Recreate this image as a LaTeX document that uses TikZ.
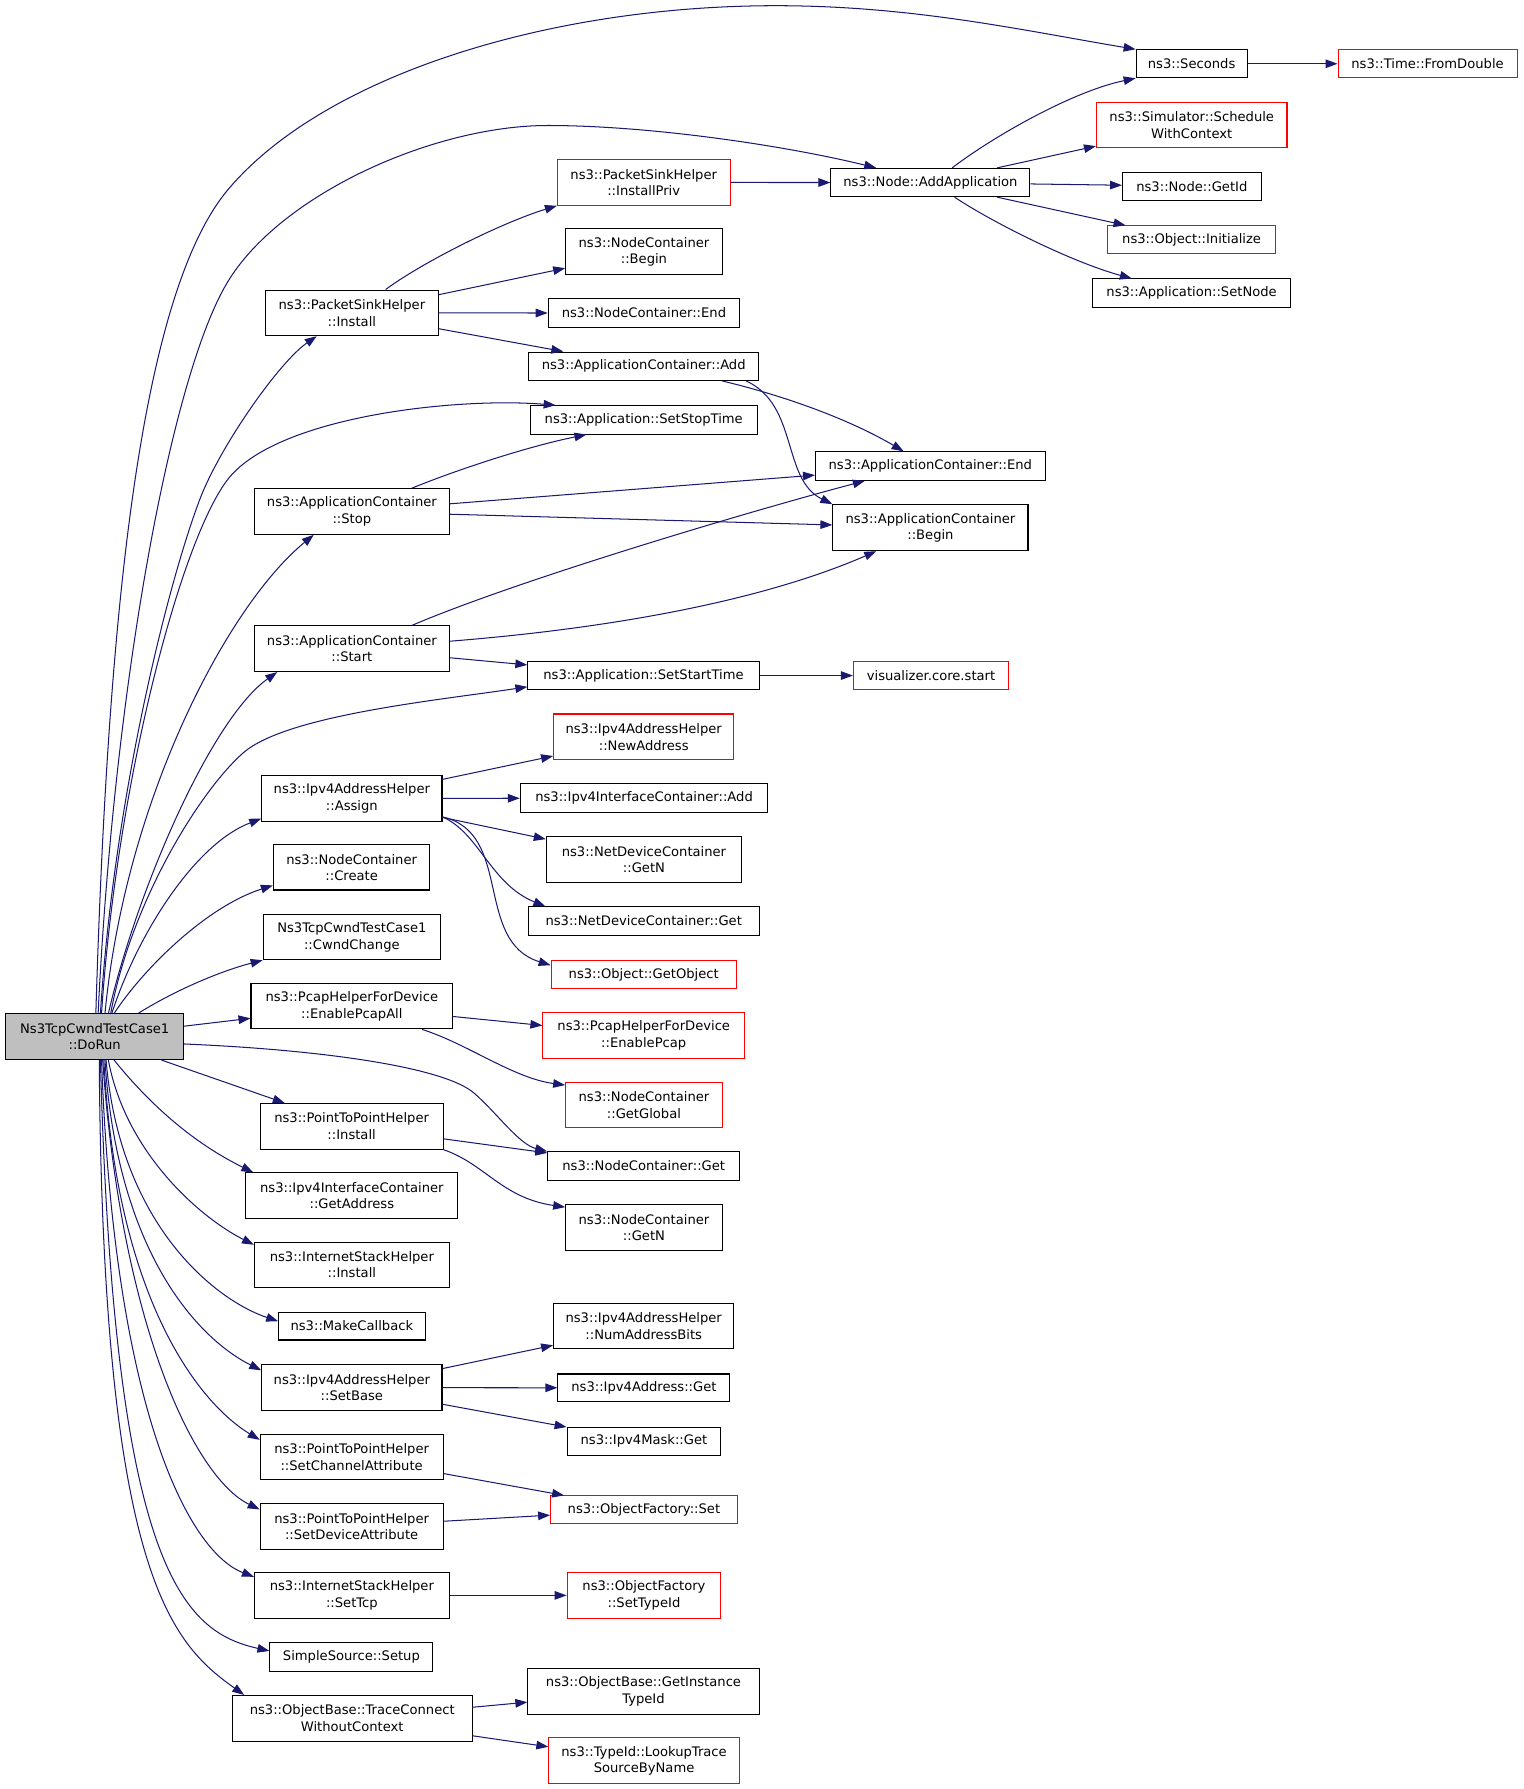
\documentclass[tikz,border=0pt]{standalone}
\usepackage{fontspec}
\setmainfont{DejaVu Sans}
\usetikzlibrary{arrows.meta}
\definecolor{edgecol}{HTML}{191970}
\definecolor{rungray}{HTML}{BFBFBF}
\begin{document}
\begin{tikzpicture}[x=1pt,y=-1pt,
  box/.style={draw=black, line width=0.9pt, fill=white, inner sep=0pt, align=center,
              font=\fontsize{11.5}{14.5}\selectfont},
  redbox/.style={box, draw=red},
  sz/.style 2 args={minimum width=#1, minimum height=#2},
  edg/.style={draw=edgecol, line width=0.9pt, -{Triangle[length=10.5pt,width=7.5pt]}},
]
\useasboundingbox (0,0) rectangle (1335,1568);

% ---------- nodes ----------
\node[box,sz={97.2}{24.5}] (Seconds) at (1044.4,55.9) {ns3::Seconds};
\node[redbox,sz={156.9}{24.5}] (FromDouble) at (1251.2,55.9) {ns3::Time::FromDouble};
\node[redbox,sz={167}{40}] (Schedule) at (1044.5,109.6) {ns3::Simulator::Schedule\\WithContext};
\node[box,sz={174.4}{24.8}] (AddApp) at (815.5,160) {ns3::Node::AddApplication};
\node[box,sz={121.5}{24.5}] (GetId) at (1044.6,163.2) {ns3::Node::GetId};
\node[redbox,sz={147.6}{24.5}] (Initialize) at (1044.4,210.2) {ns3::Object::Initialize};
\node[box,sz={173.2}{24.8}] (SetNode) at (1044.4,256.9) {ns3::Application::SetNode};
\node[redbox,sz={151.3}{40}] (InstallPriv) at (564.2,159.9) {ns3::PacketSinkHelper\\::InstallPriv};
\node[box,sz={137.2}{40}] (NCBegin) at (564.4,220.6) {ns3::NodeContainer\\::Begin};
\node[box,sz={167.8}{24.8}] (NCEnd) at (564.4,274.4) {ns3::NodeContainer::End};
\node[box,sz={151.2}{40}] (PSHInstall) at (308.4,274.2) {ns3::PacketSinkHelper\\::Install};
\node[box,sz={201.4}{24.9}] (ACAdd) at (564.2,321) {ns3::ApplicationContainer::Add};
\node[box,sz={198.8}{24.8}] (SetStopTime) at (564.2,368) {ns3::Application::SetStopTime};
\node[box,sz={201.3}{25}] (ACEnd) at (815.4,408.5) {ns3::ApplicationContainer::End};
\node[box,sz={171}{40.3}] (ACBegin) at (815.5,462.5) {ns3::ApplicationContainer\\::Begin};
\node[box,sz={170.8}{40}] (ACStop) at (308.4,448.3) {ns3::ApplicationContainer\\::Stop};
\node[box,sz={170.8}{40}] (ACStart) at (308.4,568.6) {ns3::ApplicationContainer\\::Start};
\node[box,sz={202.7}{25.2}] (SetStartTime) at (564,592.1) {ns3::Application::SetStartTime};
\node[redbox,sz={136}{25}] (VisStart) at (816,592.1) {visualizer.core.start};
\node[redbox,sz={158}{40.2}] (NewAddress) at (564.2,645.9) {ns3::Ipv4AddressHelper\\::NewAddress};
\node[box,sz={158}{39.8}] (Assign) at (308.4,699.8) {ns3::Ipv4AddressHelper\\::Assign};
\node[box,sz={217}{25}] (IICAdd) at (564.5,699.5) {ns3::Ipv4InterfaceContainer::Add};
\node[box,sz={171.2}{40}] (NDCGetN) at (564.4,753.5) {ns3::NetDeviceContainer\\::GetN};
\node[box,sz={202.3}{24.8}] (NDCGet) at (564.2,807.2) {ns3::NetDeviceContainer::Get};
\node[redbox,sz={162.3}{24.8}] (GetObject) at (564.2,854.2) {ns3::Object::GetObject};
\node[box,sz={137.2}{39.5}] (NCCreate) at (308.2,760.3) {ns3::NodeContainer\\::Create};
\node[box,sz={155.5}{39.5}] (CwndChange) at (308.4,821.4) {Ns3TcpCwndTestCase1\\::CwndChange};
\node[box,sz={176.8}{39.6}] (PcapAll) at (308.4,882) {ns3::PcapHelperForDevice\\::EnablePcapAll};
\node[redbox,sz={176.7}{40}] (Pcap) at (564.2,907.7) {ns3::PcapHelperForDevice\\::EnablePcap};
\node[box,fill=rungray,sz={156}{40}] (DoRun) at (83,908.7) {Ns3TcpCwndTestCase1\\::DoRun};
\node[redbox,sz={137.2}{39.8}] (GetGlobal) at (564.4,968.4) {ns3::NodeContainer\\::GetGlobal};
\node[box,sz={160.2}{40}] (P2PInstall) at (308.2,987.2) {ns3::PointToPointHelper\\::Install};
\node[box,sz={168.3}{24.8}] (NCGet) at (564.2,1022) {ns3::NodeContainer::Get};
\node[box,sz={186}{39.5}] (GetAddress) at (308.4,1047.8) {ns3::Ipv4InterfaceContainer\\::GetAddress};
\node[box,sz={137.2}{39.6}] (NCGetN) at (564.4,1075.8) {ns3::NodeContainer\\::GetN};
\node[box,sz={170.8}{39.8}] (ISHInstall) at (308.4,1108.5) {ns3::InternetStackHelper\\::Install};
\node[box,sz={128.3}{24.5}] (MakeCallback) at (308.4,1162.2) {ns3::MakeCallback};
\node[box,sz={158}{39.5}] (NumBits) at (564.2,1162.4) {ns3::Ipv4AddressHelper\\::NumAddressBits};
\node[box,sz={158}{39.8}] (SetBase) at (308.4,1216.2) {ns3::Ipv4AddressHelper\\::SetBase};
\node[box,sz={150.8}{24.3}] (AddrGet) at (564.4,1216.4) {ns3::Ipv4Address::Get};
\node[box,sz={134.7}{24.9}] (MaskGet) at (564.4,1263.2) {ns3::Ipv4Mask::Get};
\node[box,sz={160.3}{40}] (SetChannel) at (308.2,1277) {ns3::PointToPointHelper\\::SetChannelAttribute};
\node[redbox,sz={163.6}{24.4}] (OFSet) at (564.4,1323.3) {ns3::ObjectFactory::Set};
\node[box,sz={160.3}{40}] (SetDevice) at (308.2,1337.9) {ns3::PointToPointHelper\\::SetDeviceAttribute};
\node[box,sz={170.8}{39.8}] (SetTcp) at (308.4,1398.3) {ns3::InternetStackHelper\\::SetTcp};
\node[redbox,sz={134.7}{39.8}] (SetTypeId) at (564.4,1398.3) {ns3::ObjectFactory\\::SetTypeId};
\node[box,sz={142.8}{24.7}] (Setup) at (308,1452.3) {SimpleSource::Setup};
\node[box,sz={202.7}{40}] (GetInst) at (564,1482.6) {ns3::ObjectBase::GetInstance\\TypeId};
\node[box,sz={210.3}{40}] (TraceConn) at (308.7,1506) {ns3::ObjectBase::TraceConnect\\WithoutContext};
\node[redbox,sz={166.9}{40}] (Lookup) at (564.5,1543.2) {ns3::TypeId::LookupTrace\\SourceByName};

% ---------- edges: right side ----------
\draw[edg] (Seconds) -- (FromDouble);
\draw[edg] (AddApp.north -| 834.5,0) .. controls (870,120) and (940,80) .. (Seconds.south west);
\draw[edg] (AddApp) -- (Schedule);
\draw[edg] (AddApp) -- (GetId);
\draw[edg] (AddApp) -- (Initialize);
\draw[edg] (AddApp.south -| 836.7,0) .. controls (870,195) and (940,230) .. (SetNode.north -| 992,0);
\draw[edg] (InstallPriv) -- (AddApp);
\draw[edg] (PSHInstall.north -| 338,0) .. controls (370,230) and (440,195) .. (InstallPriv.south west);
\draw[edg] (PSHInstall) -- (NCBegin);
\draw[edg] (PSHInstall) -- (NCEnd);
\draw[edg] (PSHInstall) -- (ACAdd);
\draw[edg] (ACAdd.south -| 633,0) .. controls (680,345) and (740,365) .. (ACEnd.north -| 792,0);
\draw[edg] (ACAdd.south -| 654,0) .. controls (700,355) and (685,420) .. (ACBegin.north west);
\draw[edg] (ACStop.north -| 361,0) .. controls (400,412) and (460,392) .. (SetStopTime.south -| 514,0);
\draw[edg] (ACStop) -- (ACEnd);
\draw[edg] (ACStop) -- (ACBegin);
\draw[edg] (ACStart.north -| 361,0) .. controls (450,510) and (650,450) .. (ACEnd.south -| 758,0);
\draw[edg] (ACStart.east |- 0,562) .. controls (520,552) and (660,530) .. (ACBegin.south -| 768,0);
\draw[edg] (ACStart) -- (SetStartTime);
\draw[edg] (SetStartTime) -- (VisStart);
\draw[edg] (Assign) -- (NewAddress);
\draw[edg] (Assign) -- (IICAdd);
\draw[edg] (Assign) -- (NDCGetN);
\draw[edg] (Assign.east |- 0,716) .. controls (420,730) and (430,775) .. (NDCGet.north -| 478,0);
\draw[edg] (Assign.east |- 0,716) .. controls (450,730) and (415,825) .. (GetObject.west |- 0,846);
\draw[edg] (PcapAll) -- (Pcap);
\draw[edg] (PcapAll.south -| 370,0) .. controls (410,915) and (450,945) .. (GetGlobal.west |- 0,951);
\draw[edg] (P2PInstall) -- (NCGet);
\draw[edg] (P2PInstall.south east) .. controls (425,1020) and (440,1050) .. (NCGetN.west |- 0,1058);
\draw[edg] (SetBase) -- (NumBits);
\draw[edg] (SetBase) -- (AddrGet);
\draw[edg] (SetBase) -- (MaskGet);
\draw[edg] (SetChannel) -- (OFSet);
\draw[edg] (SetDevice) -- (OFSet);
\draw[edg] (SetTcp) -- (SetTypeId);
\draw[edg] (TraceConn) -- (GetInst);
\draw[edg] (TraceConn) -- (Lookup);

% ---------- edges: from DoRun, upward ----------
\draw[edg] (DoRun.north -| 84,0) .. controls (94.5,538.7) and (122.6,257.8) .. (200,166)
  .. controls (283.9,66.6) and (480,5) .. (680,5)
  .. controls (800,5) and (896,26.6) .. (Seconds.north west);
\draw[edg] (DoRun.north -| 86,0) .. controls (100,600) and (150,330) .. (199,248)
  .. controls (245,170.6) and (380,110) .. (480,110)
  .. controls (570,110) and (688,127.6) .. (AddApp.north -| 768,0);
\draw[edg] (DoRun.north -| 88,0) .. controls (100,700) and (146.7,512.8) .. (175,438)
  .. controls (192.7,391.25) and (244.8,317.2) .. (PSHInstall.south -| 277.6,0);
\draw[edg] (DoRun.north -| 89,0) .. controls (102,690) and (157,477) .. (199,421)
  .. controls (241,365) and (400,348) .. (SetStopTime.north -| 487,0);
\draw[edg] (DoRun.north -| 92,0) .. controls (110,700) and (200,530) .. (ACStop.south -| 275,0);
\draw[edg] (DoRun.north -| 95,0) .. controls (120,780) and (185,630) .. (ACStart.south -| 243,0);
\draw[edg] (DoRun.north -| 97,0) .. controls (115,790) and (175.5,693) .. (213,660)
  .. controls (250.5,627) and (382,614) .. (SetStartTime.west |- 0,602);
\draw[edg] (DoRun.north -| 98,0) .. controls (120,820) and (170,740) .. (Assign.west |- 0,717.5);
\draw[edg] (DoRun.north -| 100,0) .. controls (125,850) and (180,795) .. (NCCreate.west |- 0,776);
\draw[edg] (DoRun.north -| 121,0) .. controls (150,870) and (190,852) .. (CwndChange.south west);
\draw[edg] (DoRun) -- (PcapAll);
\draw[edg] (DoRun.east |- 0,915) .. controls (280,920) and (390,935) .. (416,958.5) .. controls (435,975) and (455,1003) .. (NCGet.north west);

% ---------- edges: from DoRun, downward ----------
\draw[edg] (DoRun) -- (P2PInstall);
\draw[edg] (DoRun.south -| 100,0) .. controls (125,960) and (162,998) .. (GetAddress.north -| 222,0);
\draw[edg] (DoRun.south -| 95,0) .. controls (110,1010) and (175,1067) .. (ISHInstall.west |- 0,1091);
\draw[edg] (DoRun.south -| 93,0) .. controls (105,1075) and (190,1140) .. (MakeCallback.west |- 0,1158);
\draw[edg] (DoRun.south -| 92,0) .. controls (103,1100) and (175,1174) .. (SetBase.west |- 0,1201);
\draw[edg] (DoRun.south -| 91,0) .. controls (102,1140) and (175,1230) .. (SetChannel.west |- 0,1262);
\draw[edg] (DoRun.south -| 90,0) .. controls (106,1160) and (170,1295) .. (SetDevice.west |- 0,1323);
\draw[edg] (DoRun.south -| 89,0) .. controls (100,1235) and (165,1360) .. (SetTcp.west |- 0,1382);
\draw[edg] (DoRun.south -| 88,0) .. controls (100,1375) and (160,1430) .. (Setup.west |- 0,1447);
\draw[edg] (DoRun.south -| 87,0) .. controls (90,1380) and (150,1440) .. (TraceConn.north -| 214,0);
\end{tikzpicture}
\end{document}
